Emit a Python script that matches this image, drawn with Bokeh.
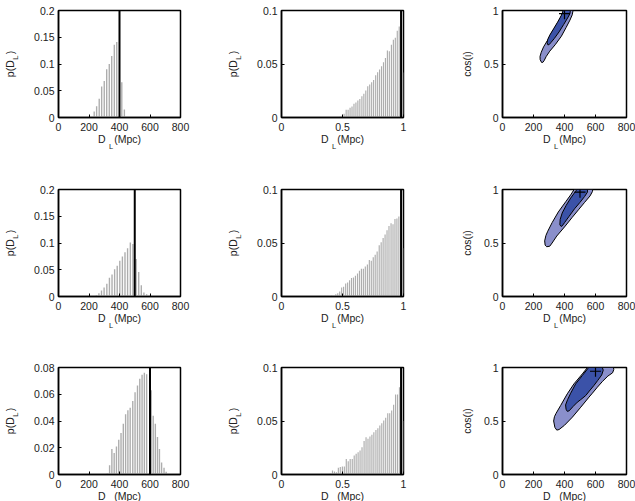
from bokeh.plotting import figure
from bokeh.layouts import gridplot
from bokeh.models import Range1d, FixedTicker, Span, LinearAxis
from bokeh.embed import file_html
from bokeh.resources import INLINE

FONT = "Liberation Sans"
TXT = "#222222"
BAR = "#adadad"
OUTER = "#8a8fcb"
INNER = "#3b52a8"
NB = "\u00a0"

# ---------------- data ----------------
true_dl = [400, 500, 600]
true_cos = 0.98

dl_ticks = [0, 200, 400, 600, 800]
dl_tick_labels = ["0", "200", "400", "600", "800"]
cos_ticks = [0, 0.5, 1]
cos_tick_labels = ["0", "0.5", "1"]
p_ticks_a = [0, 0.05, 0.1, 0.15, 0.2]
p_tick_labels_a = ["0", "0.05", "0.1", "0.15", "0.2"]
p_ticks_b = [0, 0.02, 0.04, 0.06, 0.08]
p_tick_labels_b = ["0", "0.02", "0.04", "0.06", "0.08"]
p_ticks_c = [0, 0.05, 0.1]
p_tick_labels_c = ["0", "0.05", "0.1"]

x_label_main = "D" + NB * 3 + "(Mpc)"
x_label_sub = "L"
p_label_main = "p(D" + NB * 2 + ")"
p_label_sub = "L"
cos_label = "cos(ι)"

# column 1: p(D_L) histograms
dl_bins_1 = [198, 234, 250, 267, 283, 300, 316, 333, 349, 366, 382, 415, 432, 596]
dl_hist_1 = [0.001, 0.011, 0.021, 0.035, 0.058, 0.068, 0.090, 0.100, 0.115, 0.136, 0.141, 0.066, 0.015, 0.001]

dl_bins_2 = [203, 248, 265, 282, 299, 317, 334, 351, 368, 385, 402, 419, 436, 453, 471, 488,
             509, 526, 543, 560, 578, 595]
dl_hist_2 = [0.001, 0.003, 0.006, 0.011, 0.017, 0.024, 0.035, 0.041, 0.051, 0.0575, 0.067, 0.075,
             0.0825, 0.090, 0.101, 0.098, 0.070, 0.046, 0.021, 0.0075, 0.004, 0.002]

dl_bins_3 = [320, 335, 350, 365, 380, 395, 410, 425, 440, 455, 470, 487, 502, 518, 533, 548, 563, 578,
             608, 621, 635, 649, 662, 676, 692, 706]
dl_hist_3 = [0.001, 0.007, 0.019, 0.016, 0.021, 0.026, 0.031, 0.038, 0.045, 0.048, 0.050, 0.055,
             0.0615, 0.0665, 0.0715, 0.0745, 0.076, 0.075, 0.063, 0.044, 0.038, 0.028, 0.019,
             0.009, 0.005, 0.002]

# column 2: cos histograms
c_bins_1 = [0.465, 0.481, 0.497, 0.513, 0.530, 0.546, 0.562, 0.578, 0.594, 0.610, 0.626, 0.642,
            0.659, 0.675, 0.691, 0.707, 0.723, 0.739, 0.755, 0.772, 0.788, 0.804, 0.820, 0.836,
            0.852, 0.868, 0.884, 0.901, 0.917, 0.933, 0.949, 0.965, 0.996]
c_hist_1 = [0.0005, 0.001, 0.0016, 0.0034, 0.0072, 0.0072, 0.009, 0.0103, 0.0128, 0.014, 0.0159,
            0.0174, 0.0199, 0.0221, 0.0252, 0.0293, 0.0308, 0.033, 0.035, 0.0396, 0.0424, 0.0449,
            0.048, 0.0517, 0.0555, 0.0626, 0.062, 0.068, 0.0726, 0.0745, 0.081, 0.085, 0.042]

c_bins_2 = [0.358, 0.41, 0.445, 0.461, 0.477, 0.493, 0.509, 0.526, 0.542, 0.558, 0.574, 0.59,
            0.606, 0.623, 0.639, 0.655, 0.671, 0.687, 0.704, 0.72, 0.736, 0.752, 0.768, 0.784,
            0.801, 0.817, 0.833, 0.849, 0.865, 0.881, 0.898, 0.914, 0.93, 0.946, 0.962, 0.996]
c_hist_2 = [0.0006, 0.001, 0.002, 0.003, 0.0047, 0.0084, 0.009, 0.0122, 0.013, 0.0153, 0.0172,
            0.0178, 0.0194, 0.0216, 0.024, 0.026, 0.026, 0.028, 0.030, 0.034, 0.0334, 0.0366,
            0.039, 0.042, 0.048, 0.0506, 0.0547, 0.058, 0.062, 0.066, 0.0684, 0.0675, 0.0725,
            0.0728, 0.0747, 0.045]

c_bins_3 = [0.33, 0.40, 0.418, 0.434, 0.45, 0.466, 0.482, 0.499, 0.515, 0.531, 0.547, 0.563, 0.58,
            0.596, 0.612, 0.628, 0.644, 0.66, 0.677, 0.693, 0.709, 0.725, 0.741, 0.757, 0.774,
            0.79, 0.806, 0.822, 0.838, 0.854, 0.871, 0.887, 0.903, 0.919, 0.935, 0.951, 0.967, 0.996]
c_hist_3 = [0.0006, 0.001, 0.0037, 0.0028, 0.002, 0.0062, 0.0069, 0.0075, 0.0075, 0.0146, 0.0125,
            0.0146, 0.0146, 0.0178, 0.0193, 0.0209, 0.0224, 0.0255, 0.0312, 0.0349, 0.0333, 0.0355,
            0.0371, 0.0396, 0.0417, 0.0433, 0.0458, 0.048, 0.0505, 0.053, 0.0573, 0.0573, 0.0598,
            0.0651, 0.0748, 0.0748, 0.0816, 0.05]

# column 3: joint (D_L, cos) credible regions (outer and inner contour vertices)
outer_dl_1 = [252, 243, 242, 250, 265, 290, 320, 350, 375, 393, 455, 450, 435, 410, 380, 340, 305, 282, 268, 260]
outer_c_1 = [0.515, 0.54, 0.57, 0.61, 0.66, 0.72, 0.80, 0.87, 0.93, 1.0, 1.0, 0.96, 0.91, 0.84, 0.76, 0.68, 0.62, 0.57, 0.53, 0.515]
inner_dl_1 = [292, 288, 292, 305, 330, 355, 378, 392, 438, 435, 420, 395, 365, 335, 312, 300]
inner_c_1 = [0.68, 0.70, 0.73, 0.77, 0.83, 0.89, 0.95, 1.0, 1.0, 0.97, 0.93, 0.87, 0.80, 0.74, 0.70, 0.68]

outer_dl_2 = [285, 275, 272, 280, 292, 320, 360, 410, 440, 462, 582, 580, 565, 530, 490, 450, 400, 350, 320, 305]
outer_c_2 = [0.465, 0.48, 0.52, 0.57, 0.61, 0.69, 0.79, 0.89, 0.95, 1.0, 1.0, 0.98, 0.94, 0.88, 0.81, 0.74, 0.65, 0.565, 0.50, 0.47]
inner_dl_2 = [378, 370, 372, 385, 410, 440, 470, 480, 548, 548, 530, 500, 465, 430, 400, 385]
inner_c_2 = [0.655, 0.67, 0.72, 0.78, 0.85, 0.92, 0.98, 1.0, 1.0, 0.975, 0.935, 0.88, 0.82, 0.75, 0.69, 0.66]

outer_dl_3 = [350, 338, 330, 335, 345, 375, 418, 461, 515, 548, 716, 718, 710, 680, 645, 612, 580, 558, 505, 451, 400, 365]
outer_c_3 = [0.415, 0.44, 0.50, 0.54, 0.57, 0.645, 0.754, 0.847, 0.94, 1.0, 1.0, 0.98, 0.95, 0.92, 0.87, 0.816, 0.76, 0.723, 0.629, 0.536, 0.46, 0.42]
inner_dl_3 = [418, 410, 407, 420, 440, 472, 515, 556, 644, 650, 640, 615, 590, 560, 537, 505, 483, 455, 430]
inner_c_3 = [0.59, 0.61, 0.65, 0.70, 0.76, 0.847, 0.925, 1.0, 1.0, 0.975, 0.93, 0.88, 0.832, 0.78, 0.738, 0.70, 0.676, 0.635, 0.595]

best_dl = [400, 500, 600]
best_cos = [0.97, 0.975, 0.965]

# ---------------- layout helpers ----------------
COL_W = [223, 223, 189]
ROW_H = [179, 178, 162]
MB_RIGHT = [43, 43, 9]
MB_BOTTOM = [62, 61, 45]


def style_label(ax, size):
    ax.axis_label_text_font = FONT
    ax.axis_label_text_font_size = size
    ax.axis_label_text_font_style = "normal"
    ax.axis_label_text_color = TXT


def bare_axis(**kw):
    ax = LinearAxis(ticker=FixedTicker(ticks=[]), axis_line_color=None,
                    major_tick_line_color=None, minor_tick_line_color=None,
                    major_tick_out=0, major_tick_in=0, major_label_standoff=0, **kw)
    return ax


def make_fig(r, c, xr, yr, xt, xl, yt, yl):
    p = figure(width=COL_W[c], height=ROW_H[r], x_range=Range1d(*xr), y_range=Range1d(*yr),
               output_backend="svg", toolbar_location=None, tools="")
    p.min_border_left = 56
    p.min_border_right = MB_RIGHT[c]
    p.min_border_top = 10
    p.min_border_bottom = MB_BOTTOM[r]
    p.outline_line_color = "black"
    p.outline_line_width = 1.5
    p.grid.visible = False
    p.background_fill_color = "white"
    p.border_fill_color = "white"
    for ax, ticks, labels in ((p.xaxis[0], xt, xl), (p.yaxis[0], yt, yl)):
        ax.ticker = FixedTicker(ticks=ticks)
        ax.major_label_overrides = {t: l for t, l in zip(ticks, labels)}
        ax.major_tick_in = 3
        ax.major_tick_out = 0
        ax.minor_tick_line_color = None
        ax.major_label_text_font = FONT
        ax.major_label_text_font_size = "10.5px"
        ax.major_label_text_color = TXT
        ax.axis_line_color = "black"
        ax.axis_line_width = 1.5
        ax.major_tick_line_color = "black"
    p.yaxis[0].major_label_standoff = 4
    p.xaxis[0].major_label_standoff = 5

    # x label: D_L (Mpc), subscript on a second, bare axis below
    xa = p.xaxis[0]
    xa.axis_label = x_label_main
    xa.axis_label_standoff = -1
    style_label(xa, "10.5px")
    xs = bare_axis(axis_label=x_label_sub + NB * 8, axis_label_standoff=-6)
    style_label(xs, "7.5px")
    p.add_layout(xs, "below")
    return p


def add_p_ylabel(p):
    ya = p.yaxis[0]
    ya.axis_label = NB * 6 + p_label_sub
    ya.axis_label_standoff = 11
    style_label(ya, "7.5px")
    ym = bare_axis(axis_label=p_label_main, axis_label_standoff=-7)
    style_label(ym, "10.5px")
    p.add_layout(ym, "left")


def add_cos_ylabel(p):
    ya = p.yaxis[0]
    ya.axis_label = cos_label
    ya.axis_label_standoff = 8
    style_label(ya, "10.5px")


dl_hists = [(dl_bins_1, dl_hist_1, (0, 0.2), p_ticks_a, p_tick_labels_a),
            (dl_bins_2, dl_hist_2, (0, 0.2), p_ticks_a, p_tick_labels_a),
            (dl_bins_3, dl_hist_3, (0, 0.08), p_ticks_b, p_tick_labels_b)]
c_hists = [(c_bins_1, c_hist_1), (c_bins_2, c_hist_2), (c_bins_3, c_hist_3)]
contours = [(outer_dl_1, outer_c_1, inner_dl_1, inner_c_1),
            (outer_dl_2, outer_c_2, inner_dl_2, inner_c_2),
            (outer_dl_3, outer_c_3, inner_dl_3, inner_c_3)]

rows = []
for r in range(3):
    # column 1: p(D_L)
    bins, hist, yr, yt, yl = dl_hists[r]
    p1 = make_fig(r, 0, (0, 800), yr, dl_ticks, dl_tick_labels, yt, yl)
    p1.vbar(x=bins, top=hist, width=9, fill_color=BAR, line_color=None)
    p1.add_layout(Span(location=true_dl[r], dimension="height", line_color="black", line_width=2))
    add_p_ylabel(p1)

    # column 2: p(cos)
    cb, ch = c_hists[r]
    p2 = make_fig(r, 1, (0, 1), (0, 0.1), cos_ticks, cos_tick_labels, p_ticks_c, p_tick_labels_c)
    p2.vbar(x=cb, top=ch, width=0.0095, fill_color=BAR, line_color=None)
    p2.add_layout(Span(location=true_cos, dimension="height", line_color="black", line_width=2))
    add_p_ylabel(p2)

    # column 3: joint credible regions
    odl, oc, idl, ic = contours[r]
    p3 = make_fig(r, 2, (0, 800), (0, 1), dl_ticks, dl_tick_labels, cos_ticks, cos_tick_labels)
    p3.patch(odl, oc, fill_color=OUTER, line_color="black", line_width=1)
    p3.patch(idl, ic, fill_color=INNER, line_color="black", line_width=1)
    p3.scatter([best_dl[r]], [best_cos[r]], marker="cross", size=11, line_color="black",
               line_width=1.2)
    add_cos_ylabel(p3)
    rows.append([p1, p2, p3])

grid = gridplot(rows, toolbar_location=None)

open("out.html", "w").write(file_html(grid, INLINE))
